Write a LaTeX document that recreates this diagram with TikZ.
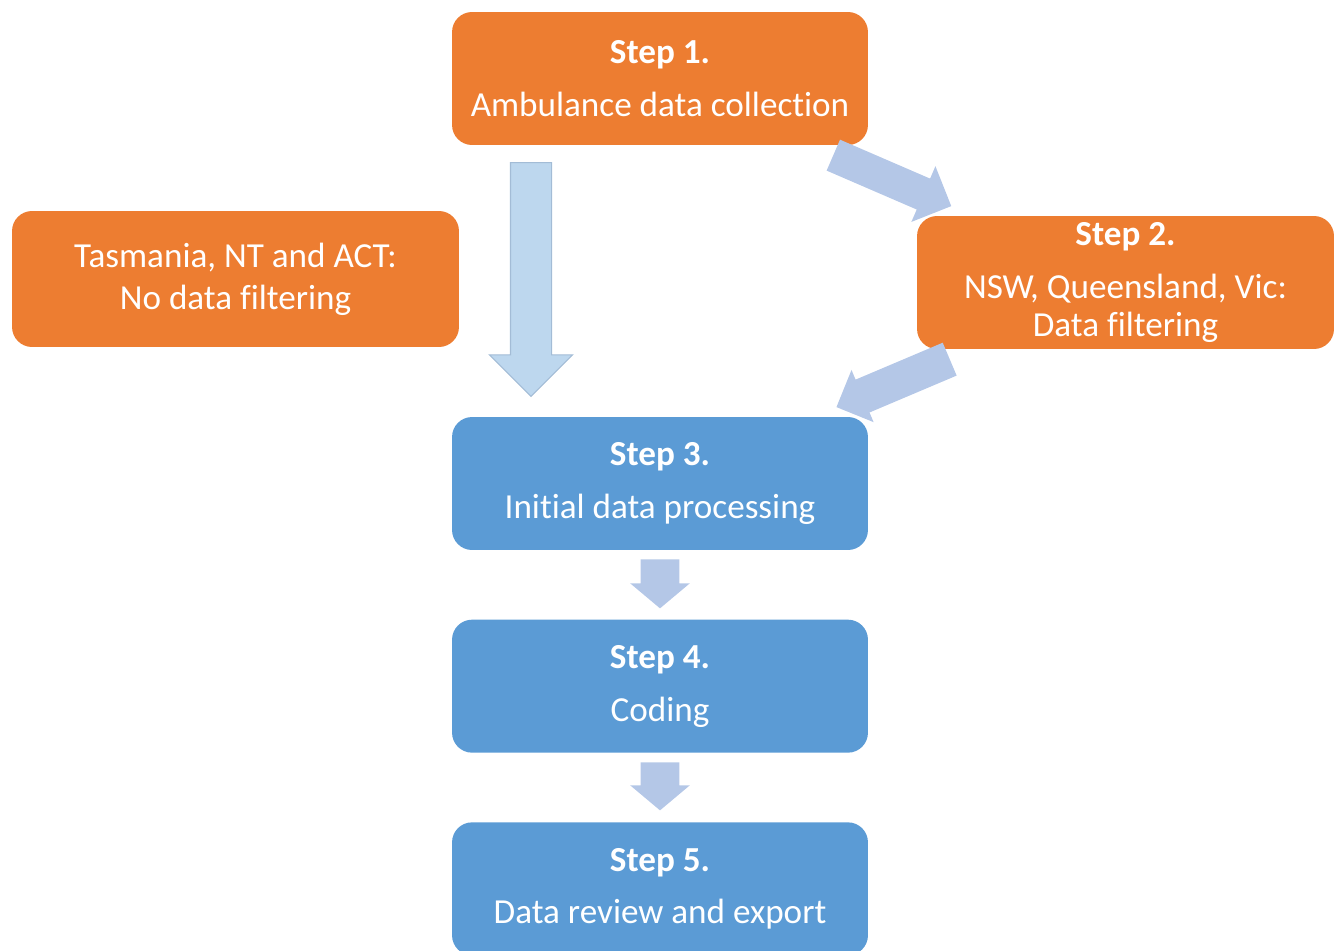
\documentclass[tikz,border=0pt]{standalone}
\usepackage{fontspec}
\setmainfont{Carlito}[Ligatures=NoCommon]
\usetikzlibrary{shapes.arrows,positioning}

\definecolor{steporange}{HTML}{ED7D31}
\definecolor{stepblue}{HTML}{5B9BD5}
\definecolor{arrowblue}{HTML}{B4C7E7}
\definecolor{arrowpale}{HTML}{BDD7EE}
\definecolor{arrowedge}{HTML}{A3BCD6}

\begin{document}
\begin{tikzpicture}[
                        x=0.02cm,
                        y=-0.02cm,
                        font=\fontsize{20}{22}\selectfont,
                        text=white
                    ]
                    \tikzstyle{box}=[rounded corners=0.4cm,minimum width=8.32cm,minimum height=2.66cm,align=center,inner sep=0pt]
                    \tikzstyle{orangebox}=[box,fill=steporange]
                    \tikzstyle{bluebox}=[box,fill=stepblue]
                    \tikzstyle{blockarrow}=[single arrow,fill=arrowblue,inner xsep=0pt,sloped,allow upside down,pos=0,anchor=tail]
                    \tikzstyle{bigarrow}=[blockarrow,fill=arrowpale,draw=arrowedge,line width=0.6pt]

                    \useasboundingbox (0,0) rectangle (1338,950);

                    % steps
                    \node[orangebox] (S1) at (660,78.5)
                        {\textbf{Step 1.}\\[8pt] Ambulance data collection};
                    \node[orangebox,minimum width=8.94cm,minimum height=2.72cm] (TAS) at (235.5,279)
                        {\raisebox{-4pt}{Tasmania, NT and ACT:}\\[2pt] \raisebox{-4pt}{No data filtering}};
                    \node[orangebox,minimum width=8.34cm] (S2) at (1125.5,282.5)
                        {\textbf{Step 2.}\\[8pt] NSW, Queensland, Vic:\\ Data filtering};
                    \node[bluebox] (S3) at (660,483.5)
                        {\textbf{Step 3.}\\[8pt] Initial data processing};
                    \node[bluebox,below=1.38cm of S3] (S4)
                        {\textbf{Step 4.}\\[8pt] Coding};
                    \node[bluebox,below=1.38cm of S4] (S5)
                        {\textbf{Step 5.}\\[8pt] Data review and export};

                    % arrow ends
                    \coordinate (A1) at (531,162);  \coordinate (A1e) at (531,396);
                    \coordinate (A2) at (833,155);  \coordinate (A2e) at (951,206);
                    \coordinate (A3) at (950,359);  \coordinate (A3e) at (836.7,407);
                    \coordinate (A4) at (660,559);  \coordinate (A4e) at (660,608);
                    \coordinate (A5) at (660,762);  \coordinate (A5e) at (660,810);

                    \path
                    (A1) -- node[bigarrow,minimum height=4.68cm,inner ysep=0.4cm,single arrow head extend=0.42cm] {} (A1e)
                    (A2) -- node[blockarrow,minimum height=2.57cm,inner ysep=0.33cm,single arrow head extend=0.27cm] {} (A2e)
                    (A3) -- node[blockarrow,minimum height=2.46cm,inner ysep=0.35cm,single arrow head extend=0.21cm] {} (A3e)
                    (A4) -- node[blockarrow,minimum height=0.98cm,inner ysep=0.38cm,single arrow head extend=0.21cm,single arrow tip angle=100] {} (A4e)
                    (A5) -- node[blockarrow,minimum height=0.96cm,inner ysep=0.38cm,single arrow head extend=0.21cm,single arrow tip angle=100] {} (A5e) ;

                \end{tikzpicture}
\end{document}
